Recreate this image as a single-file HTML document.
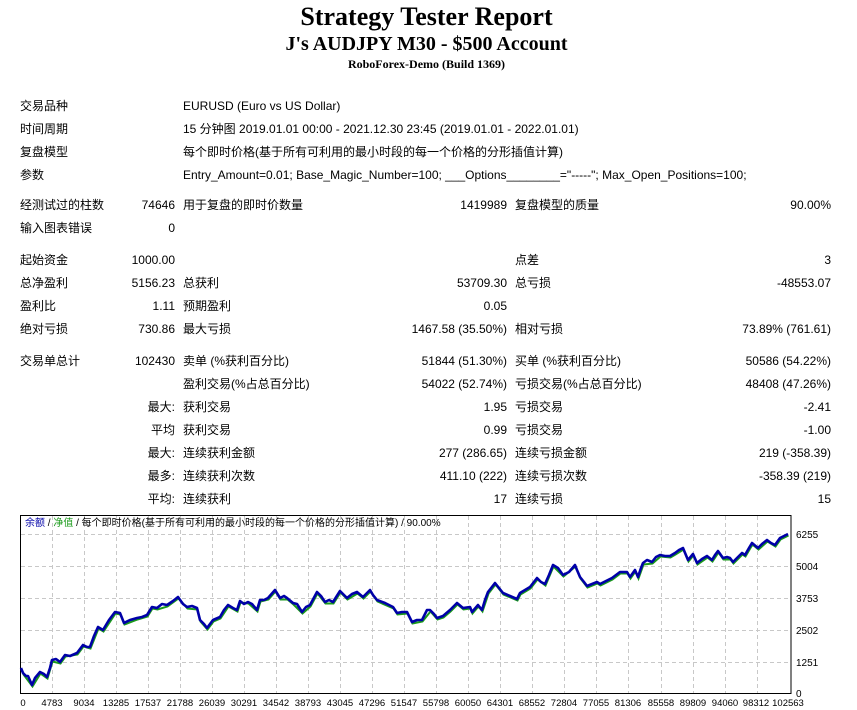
<!DOCTYPE html>
<html><head><meta charset="utf-8"><style>
body{margin:0;width:857px;height:710px;background:#fff;position:relative;overflow:hidden;font-family:"Liberation Sans","Noto Sans CJK SC",sans-serif;font-size:12px;color:#000}
.t{position:absolute;left:0;width:857px;text-align:center;font-family:"Liberation Serif","Noto Serif CJK SC",serif;font-weight:bold;white-space:nowrap}
.l,.r{position:absolute;white-space:nowrap;line-height:14px}
.r{text-align:right}
</style></head><body>
<div class="t" style="top:2px;font-size:26px;line-height:30px;left:-2px">Strategy Tester Report</div>
<div class="t" style="top:33px;font-size:20px;line-height:22px;left:-2px">J's AUDJPY M30 - $500 Account</div>
<div class="t" style="top:57px;font-size:12px;line-height:14px;left:-2px">RoboForex-Demo (Build 1369)</div>

<div class="l" style="left:20px;top:99px">交易品种</div><div class="l" style="left:183px;top:99px">EURUSD (Euro vs US Dollar)</div>
<div class="l" style="left:20px;top:122px">时间周期</div><div class="l" style="left:183px;top:122px">15 分钟图 2019.01.01 00:00 - 2021.12.30 23:45 (2019.01.01 - 2022.01.01)</div>
<div class="l" style="left:20px;top:145px">复盘模型</div><div class="l" style="left:183px;top:145px">每个即时价格(基于所有可利用的最小时段的每一个价格的分形插值计算)</div>
<div class="l" style="left:20px;top:168px">参数</div><div class="l" style="left:183px;top:168px">Entry_Amount=0.01; Base_Magic_Number=100; ___Options________="-----"; Max_Open_Positions=100;</div>

<div class="l" style="left:20px;top:198px">经测试过的柱数</div><div class="r" style="right:682px;top:198px">74646</div><div class="l" style="left:183px;top:198px">用于复盘的即时价数量</div><div class="r" style="right:350px;top:198px">1419989</div><div class="l" style="left:515px;top:198px">复盘模型的质量</div><div class="r" style="right:26px;top:198px">90.00%</div>
<div class="l" style="left:20px;top:221px">输入图表错误</div><div class="r" style="right:682px;top:221px">0</div>

<div class="l" style="left:20px;top:253px">起始资金</div><div class="r" style="right:682px;top:253px">1000.00</div><div class="l" style="left:515px;top:253px">点差</div><div class="r" style="right:26px;top:253px">3</div>
<div class="l" style="left:20px;top:276px">总净盈利</div><div class="r" style="right:682px;top:276px">5156.23</div><div class="l" style="left:183px;top:276px">总获利</div><div class="r" style="right:350px;top:276px">53709.30</div><div class="l" style="left:515px;top:276px">总亏损</div><div class="r" style="right:26px;top:276px">-48553.07</div>
<div class="l" style="left:20px;top:299px">盈利比</div><div class="r" style="right:682px;top:299px">1.11</div><div class="l" style="left:183px;top:299px">预期盈利</div><div class="r" style="right:350px;top:299px">0.05</div>
<div class="l" style="left:20px;top:322px">绝对亏损</div><div class="r" style="right:682px;top:322px">730.86</div><div class="l" style="left:183px;top:322px">最大亏损</div><div class="r" style="right:350px;top:322px">1467.58 (35.50%)</div><div class="l" style="left:515px;top:322px">相对亏损</div><div class="r" style="right:26px;top:322px">73.89% (761.61)</div>

<div class="l" style="left:20px;top:354px">交易单总计</div><div class="r" style="right:682px;top:354px">102430</div><div class="l" style="left:183px;top:354px">卖单 (%获利百分比)</div><div class="r" style="right:350px;top:354px">51844 (51.30%)</div><div class="l" style="left:515px;top:354px">买单 (%获利百分比)</div><div class="r" style="right:26px;top:354px">50586 (54.22%)</div>
<div class="l" style="left:183px;top:377px">盈利交易(%占总百分比)</div><div class="r" style="right:350px;top:377px">54022 (52.74%)</div><div class="l" style="left:515px;top:377px">亏损交易(%占总百分比)</div><div class="r" style="right:26px;top:377px">48408 (47.26%)</div>
<div class="r" style="right:682px;top:400px">最大:</div><div class="l" style="left:183px;top:400px">获利交易</div><div class="r" style="right:350px;top:400px">1.95</div><div class="l" style="left:515px;top:400px">亏损交易</div><div class="r" style="right:26px;top:400px">-2.41</div>
<div class="r" style="right:682px;top:423px">平均</div><div class="l" style="left:183px;top:423px">获利交易</div><div class="r" style="right:350px;top:423px">0.99</div><div class="l" style="left:515px;top:423px">亏损交易</div><div class="r" style="right:26px;top:423px">-1.00</div>
<div class="r" style="right:682px;top:446px">最大:</div><div class="l" style="left:183px;top:446px">连续获利金额</div><div class="r" style="right:350px;top:446px">277 (286.65)</div><div class="l" style="left:515px;top:446px">连续亏损金额</div><div class="r" style="right:26px;top:446px">219 (-358.39)</div>
<div class="r" style="right:682px;top:469px">最多:</div><div class="l" style="left:183px;top:469px">连续获利次数</div><div class="r" style="right:350px;top:469px">411.10 (222)</div><div class="l" style="left:515px;top:469px">连续亏损次数</div><div class="r" style="right:26px;top:469px">-358.39 (219)</div>
<div class="r" style="right:682px;top:492px">平均:</div><div class="l" style="left:183px;top:492px">连续获利</div><div class="r" style="right:350px;top:492px">17</div><div class="l" style="left:515px;top:492px">连续亏损</div><div class="r" style="right:26px;top:492px">15</div>

<svg width="857" height="710" style="position:absolute;left:0;top:0" font-family="Liberation Sans, Noto Sans CJK SC, sans-serif">
<g stroke="#c8c8c8" stroke-dasharray="4,3" stroke-width="1">
<line x1="21" y1="534.5" x2="791" y2="534.5"/><line x1="21" y1="566.5" x2="791" y2="566.5"/><line x1="21" y1="598.5" x2="791" y2="598.5"/><line x1="21" y1="630.5" x2="791" y2="630.5"/><line x1="21" y1="662.5" x2="791" y2="662.5"/>
<line x1="52.5" y1="516" x2="52.5" y2="694"/><line x1="84.5" y1="516" x2="84.5" y2="694"/><line x1="116.5" y1="516" x2="116.5" y2="694"/><line x1="148.5" y1="516" x2="148.5" y2="694"/><line x1="180.5" y1="516" x2="180.5" y2="694"/><line x1="212.5" y1="516" x2="212.5" y2="694"/><line x1="244.5" y1="516" x2="244.5" y2="694"/><line x1="276.5" y1="516" x2="276.5" y2="694"/><line x1="308.5" y1="516" x2="308.5" y2="694"/><line x1="340.5" y1="516" x2="340.5" y2="694"/><line x1="372.5" y1="516" x2="372.5" y2="694"/><line x1="404.5" y1="516" x2="404.5" y2="694"/><line x1="436.5" y1="516" x2="436.5" y2="694"/><line x1="468.5" y1="516" x2="468.5" y2="694"/><line x1="500.5" y1="516" x2="500.5" y2="694"/><line x1="532.5" y1="516" x2="532.5" y2="694"/><line x1="564.5" y1="516" x2="564.5" y2="694"/><line x1="596.5" y1="516" x2="596.5" y2="694"/><line x1="628.5" y1="516" x2="628.5" y2="694"/><line x1="661.5" y1="516" x2="661.5" y2="694"/><line x1="693.5" y1="516" x2="693.5" y2="694"/><line x1="725.5" y1="516" x2="725.5" y2="694"/><line x1="757.5" y1="516" x2="757.5" y2="694"/>
</g>
<rect x="20.5" y="515.5" width="770.5" height="178" fill="none" stroke="#000" stroke-width="1"/>
<polyline fill="none" stroke="#1a9a1a" stroke-width="2" transform="translate(0.5,1.5)" points="21,668 23,673 32,685 40,672 47,677 52,660 60,662 65,655 77,653 83,645 90,647 98,627 103,630 115,612 120,613 124,623 137,618 147,615 152,607 157,608 167,605 178,597 187,607 197,608 200,620 207,628 213,620 220,617 228,605 237,610 240,601 248,602 257,610 260,600 268,598 275,590 280,598 287,598 293,603 302,612 310,605 317,592 325,602 333,602 340,591 347,598 357,592 363,597 370,590 377,600 393,607 397,613 407,612 412,622 422,620 430,610 437,618 443,616 450,610 457,603 463,608 470,607 472,612 478,605 482,610 488,592 495,583 503,593 517,599 520,593 530,587 537,578 545,584 553,565 563,575 575,565 580,577 587,586 597,582 600,584 612,578 620,572 627,572 630,577 635,570 638,577 643,563 652,562 660,555 670,556 675,553 683,548 688,560 693,554 697,563 707,556 712,560 718,551 723,558 730,558 733,562 742,553 745,555 752,543 758,548 767,540 775,545 780,538 788,534"/>
<polyline fill="none" stroke="#0000a8" stroke-width="2.6" stroke-linejoin="round" points="21,668 23,673 26,676 28,676 32,685 35,678 40,672 44,674 47,677 50,668 52,660 56,659 60,662 65,655 70,656 77,653 83,645 87,647 90,647 94,636 98,627 103,630 109,620 115,612 120,613 124,623 130,620 137,618 142,617 147,615 152,607 157,608 162,604 167,605 173,601 178,597 183,604 187,607 192,606 197,608 200,620 204,624 207,628 210,624 213,620 220,617 224,610 228,605 233,608 237,610 240,601 244,604 248,602 252,604 257,610 260,600 264,600 268,598 275,590 280,598 284,596 287,598 293,603 297,604 302,612 306,607 310,605 317,592 321,596 325,602 329,600 333,602 340,591 347,598 352,594 357,592 363,597 370,590 373,595 377,600 385,603 393,607 397,613 402,612 407,612 412,622 417,620 422,620 427,610 430,610 434,614 437,618 443,616 450,610 457,603 463,608 470,607 472,612 478,605 482,610 485,600 488,592 495,583 499,588 503,593 510,596 517,599 520,593 525,590 530,587 537,578 541,582 545,584 549,575 553,565 558,568 563,575 569,572 575,565 577,570 580,577 584,582 587,586 592,584 597,582 600,584 606,581 612,578 616,575 620,572 627,572 630,577 635,570 638,577 641,568 643,563 647,560 652,562 656,557 660,555 665,556 670,556 675,553 679,550 683,548 688,560 693,554 697,563 702,559 707,556 712,560 715,555 718,551 723,558 727,557 730,558 733,562 738,557 742,553 745,555 749,548 752,543 758,548 762,544 767,540 771,543 775,545 780,538 784,536 788,534"/>
<g font-size="10" fill="#000">
<text x="25" y="526"><tspan fill="#0000a8">余额</tspan> / <tspan fill="#1a9a1a">净值</tspan> / 每个即时价格(基于所有可利用的最小时段的每一个价格的分形插值计算) / 90.00%</text>
</g>
<g font-size="10" fill="#000">
<text x="796" y="538">6255</text><text x="796" y="570">5004</text><text x="796" y="602">3753</text><text x="796" y="634">2502</text><text x="796" y="666">1251</text><text x="796" y="697">0</text>
</g>
<g font-size="9.5" fill="#000" text-anchor="middle">
<text x="23" y="706">0</text><text x="52" y="706">4783</text><text x="84" y="706">9034</text><text x="116" y="706">13285</text><text x="148" y="706">17537</text><text x="180" y="706">21788</text><text x="212" y="706">26039</text><text x="244" y="706">30291</text><text x="276" y="706">34542</text><text x="308" y="706">38793</text><text x="340" y="706">43045</text><text x="372" y="706">47296</text><text x="404" y="706">51547</text><text x="436" y="706">55798</text><text x="468" y="706">60050</text><text x="500" y="706">64301</text><text x="532" y="706">68552</text><text x="564" y="706">72804</text><text x="596" y="706">77055</text><text x="628" y="706">81306</text><text x="661" y="706">85558</text><text x="693" y="706">89809</text><text x="725" y="706">94060</text><text x="756" y="706">98312</text><text x="788" y="706">102563</text>
</g>
</svg>
</body></html>
